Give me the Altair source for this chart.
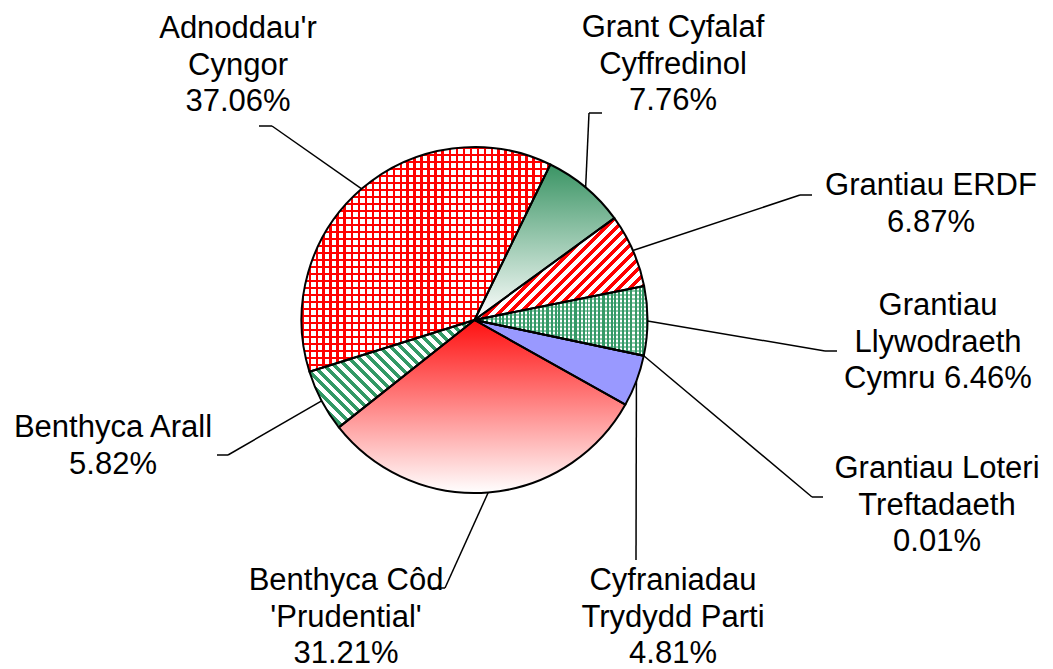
import math
import pandas as pd
import altair as alt

# ---------------- data ----------------
categories = [
    "Grant Cyfalaf Cyffredinol",
    "Grantiau ERDF",
    "Grantiau Llywodraeth Cymru",
    "Grantiau Loteri Treftadaeth",
    "Cyfraniadau Trydydd Parti",
    "Benthyca Côd 'Prudential'",
    "Benthyca Arall",
    "Adnoddau'r Cyngor",
]
values = [7.76, 6.87, 6.46, 0.01, 4.81, 31.21, 5.82, 37.06]
label_names = [
    "Grant Cyfalaf\nCyffredinol",
    "Grantiau ERDF",
    "Grantiau\nLlywodraeth\nCymru",
    "Grantiau Loteri\nTreftadaeth",
    "Cyfraniadau\nTrydydd Parti",
    "Benthyca Côd\n'Prudential'",
    "Benthyca Arall",
    "Adnoddau'r\nCyngor",
]
label_sep = ["\n", "\n", " ", "\n", "\n", "\n", "\n", "\n"]

# ---------------- layout (chart pixels) ----------------
W, H = 1037, 661
CX, CY, R = 466.5, 312.0, 173.0
START_DEG = 26.0
label_x = [665, 923, 930, 929, 665, 338, 105, 230]
label_y = [29, 187, 307, 470, 582, 582, 429, 30]
elbow_x = [581, 792, 817, 804, 628, 437, 220, 264]
elbow_y = [105, 187, 343, 489, 552, 580, 447, 118]
end_x = [594, 804, 829, 815, 628, 425, 209, 251]
end_y = elbow_y

total = sum(values)
a0 = math.radians(START_DEG)

labels = [n + s + f"{v:.2f}%" for n, s, v in zip(label_names, label_sep, values)]
df = pd.DataFrame({
    "cat": categories,
    "value": values,
    "order": list(range(len(categories))),
    "label": labels,
    "label_x": label_x,
    "label_y": label_y,
    "elbow_x": elbow_x,
    "elbow_y": elbow_y,
    "end_x": end_x,
    "end_y": end_y,
})

# slice geometry (for sizing fill patterns relative to each slice's box)
bbox = {}
cum = 0.0
for c, v in zip(categories, values):
    s = a0 + cum / total * 2 * math.pi
    e = a0 + (cum + v) / total * 2 * math.pi
    cum += v
    xs_, ys_ = [0.0], [0.0]
    for i in range(401):
        a = s + (e - s) * i / 400
        xs_.append(R * math.sin(a))
        ys_.append(-R * math.cos(a))
    bbox[c] = (max(max(xs_) - min(xs_), 1.0), max(max(ys_) - min(ys_), 1.0))


def stripes(cat, ang_deg, period, lw, c_line, c_bg):
    w, h = bbox[cat]
    nx, ny = math.cos(math.radians(ang_deg)), math.sin(math.radians(ang_deg))
    if abs(nx) < 1e-9:
        nx = 0.0
    if abs(ny) < 1e-9:
        ny = 0.0
    L = abs(nx) * w + abs(ny) * h
    u0 = 0.0 if nx >= 0 else 1.0
    v0 = 0.0 if ny >= 0 else 1.0
    gx, gy = nx * w / L, ny * h / L
    g2 = gx * gx + gy * gy
    dx, dy = gx / g2, gy / g2
    stops = []
    k = 0
    while k * period < L:
        s0 = k * period / L
        s1 = min(1.0, (k * period + lw) / L)
        s2 = min(1.0, (k + 1) * period / L)
        stops += [
            {"offset": round(min(s0, 1.0), 5), "color": c_line},
            {"offset": round(s1, 5), "color": c_line},
            {"offset": round(s1, 5), "color": c_bg},
            {"offset": round(s2, 5), "color": c_bg},
        ]
        k += 1
    return {"gradient": "linear", "x1": round(u0, 5), "y1": round(v0, 5),
            "x2": round(u0 + dx, 5), "y2": round(v0 + dy, 5), "stops": stops}


def vgrad(c_top, c_bot):
    return {"gradient": "linear", "x1": 0, "y1": 0, "x2": 0, "y2": 1,
            "stops": [{"offset": 0, "color": c_top}, {"offset": 1, "color": c_bot}]}


RED = "#ff0000"
GREEN = "#339966"
CLEAR_RED = "rgba(255,0,0,0)"
CLEAR_GREEN = "rgba(51,153,102,0)"

fills = [
    ("Grant Cyfalaf Cyffredinol", vgrad("#3a9464", "#ffffff")),
    ("Grantiau ERDF", stripes("Grantiau ERDF", 45, 7.5, 3.5, RED, "#ffffff")),
    ("Grantiau Llywodraeth Cymru", stripes("Grantiau Llywodraeth Cymru", 0, 4, 2, GREEN, "#ffffff")),
    ("Grantiau Llywodraeth Cymru", stripes("Grantiau Llywodraeth Cymru", 90, 4, 2, "rgba(51,153,102,0.55)", CLEAR_GREEN)),
    ("Grantiau Loteri Treftadaeth", "#993366"),
    ("Cyfraniadau Trydydd Parti", "#9999ff"),
    ("Benthyca Côd 'Prudential'", vgrad("#ff1010", "#ffffff")),
    ("Benthyca Arall", stripes("Benthyca Arall", -45, 7.5, 3.5, GREEN, "#ffffff")),
    ("Adnoddau'r Cyngor", stripes("Adnoddau'r Cyngor", 0, 7, 2.4, RED, "#ffffff")),
    ("Adnoddau'r Cyngor", stripes("Adnoddau'r Cyngor", 90, 7, 2.4, RED, CLEAR_RED)),
]

# ---------------- chart ----------------
theta_scale = alt.Scale(domain=[0, total], range=[a0, a0 + 2 * math.pi])
xs = alt.Scale(domain=[0, W], range=[0, W], nice=False, zero=False)
ys = alt.Scale(domain=[0, H], range=[0, H], nice=False, zero=False)

base = alt.Chart(df).transform_stack(
    stack="value", as_=["v0", "v1"], groupby=[], sort=[alt.SortField("order", order="ascending")]
)

arc_enc = dict(
    theta=alt.Theta("v0:Q", scale=theta_scale),
    theta2=alt.Theta2("v1:Q"),
    x=alt.value(CX),
    y=alt.value(CY),
)

layers = []
for cat, f in fills:
    layers.append(
        base.transform_filter(alt.datum.cat == cat)
        .mark_arc(radius=R, fill=f, strokeWidth=0)
        .encode(**arc_enc)
    )

outline = base.mark_arc(radius=R, fill="#ffffff", fillOpacity=0, stroke="black",
                        strokeWidth=2, strokeJoin="round").encode(**arc_enc)
layers.append(outline)

leader1 = base.transform_calculate(
    ang=f"{a0} + (datum.v0 + datum.v1) / 2 / {total} * 2 * PI"
).transform_calculate(
    ex=f"{CX} + {R} * sin(datum.ang)",
    ey=f"{CY} - {R} * cos(datum.ang)",
).mark_rule(color="black", strokeWidth=1.5).encode(
    x=alt.X("ex:Q", scale=xs, axis=None),
    y=alt.Y("ey:Q", scale=ys, axis=None),
    x2="elbow_x:Q",
    y2="elbow_y:Q",
)
leader2 = alt.Chart(df).mark_rule(color="black", strokeWidth=1.5).encode(
    x=alt.X("elbow_x:Q", scale=xs, axis=None),
    y=alt.Y("elbow_y:Q", scale=ys, axis=None),
    x2="end_x:Q",
    y2="end_y:Q",
)
text = alt.Chart(df).mark_text(
    font="Liberation Sans", fontSize=31, lineHeight=36.5, align="center",
    baseline="alphabetic", lineBreak="\n", color="black",
).encode(
    x=alt.X("label_x:Q", scale=xs, axis=None),
    y=alt.Y("label_y:Q", scale=ys, axis=None),
    text="label:N",
)
layers += [leader1, leader2, text]

chart = alt.layer(*layers).properties(
    width=W, height=H, padding=0, autosize=alt.AutoSizeParams(type="none"),
    background="white",
).configure_view(stroke=None)

chart.save("out.html", embed_options={"renderer": "svg", "actions": False})
